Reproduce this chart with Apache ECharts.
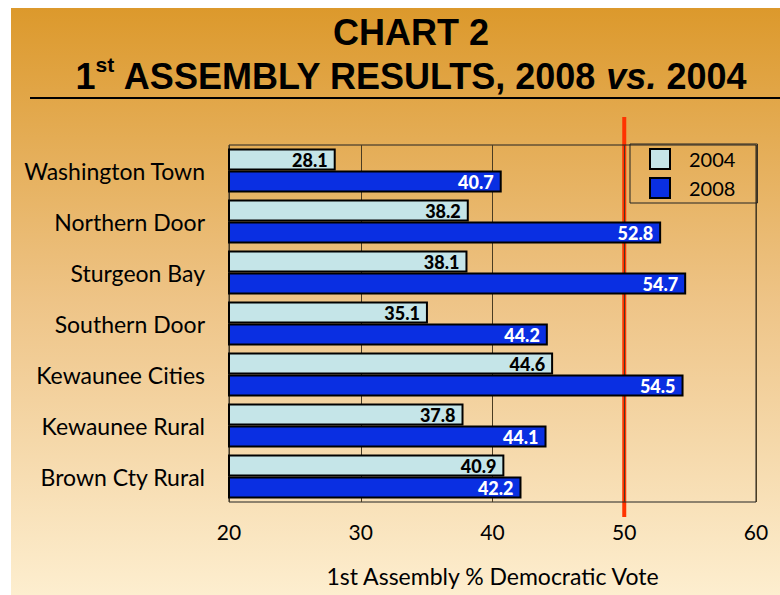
<!DOCTYPE html>
<html>
<head>
<meta charset="utf-8">
<script src="https://cdn.jsdelivr.net/npm/echarts@6/dist/echarts.min.js"></script>
<style>html,body{margin:0;padding:0;background:#fff;}#c{width:780px;height:595px;}</style>
</head>
<body>
<div id="c"></div>
<script>
const categories = ['Washington Town','Northern Door','Sturgeon Bay','Southern Door','Kewaunee Cities','Kewaunee Rural','Brown Cty Rural'];
const seriesNames = ['2004','2008'];
const values2004 = [28.1, 38.2, 38.1, 35.1, 44.6, 37.8, 40.9];
const values2008 = [40.7, 52.8, 54.7, 44.2, 54.5, 44.1, 42.2];
const xTicks = [20, 30, 40, 50, 60];
const threshold = 50;
const axisTitle = '1st Assembly % Democratic Vote';

const FONT = 'Lato, "Open Sans", sans-serif';
const chart = echarts.init(document.getElementById('c'), null, {renderer: 'svg'});

const option = {
  backgroundColor: '#ffffff',
  animation: false,
  title: {
    left: 406, top: 5, textAlign: 'center',
    text: '{a|CHART 2}\n{b|1}{s|st}{b| ASSEMBLY RESULTS, 2008 }{i|vs.}{b| 2004}',
    textStyle: {
      rich: {
        a: {fontFamily: '"Liberation Sans", Arial, sans-serif', fontWeight: 'bold', fontSize: 36, lineHeight: 44, color: '#000'},
        b: {fontFamily: '"Liberation Sans", Arial, sans-serif', fontWeight: 'bold', fontSize: 36, lineHeight: 44, color: '#000'},
        i: {fontFamily: '"Liberation Sans", Arial, sans-serif', fontWeight: 'bold', fontStyle: 'italic', fontSize: 36, lineHeight: 44, color: '#000'},
        s: {fontFamily: '"Liberation Sans", Arial, sans-serif', fontWeight: 'bold', fontSize: 21, lineHeight: 44, verticalAlign: 'top', padding: [0,0,14,0], color: '#000'}
      }
    }
  },
  legend: {
    orient: 'vertical', left: 630, top: 144,
    data: seriesNames,
    itemWidth: 20, itemHeight: 20, itemGap: 7,
    padding: [4, 22, 4, 19],
    borderColor: '#222', borderWidth: 1, borderRadius: 0,
    backgroundColor: 'transparent',
    icon: 'rect',
    textStyle: {fontFamily: FONT, fontSize: 20, color: '#000', padding: [0, 0, 0, 14]}
  },
  grid: {
    left: 229, right: 24, top: 145, bottom: 93,
    show: true, borderColor: '#222', borderWidth: 1, backgroundColor: 'transparent'
  },
  xAxis: {
    type: 'value', min: xTicks[0], max: xTicks[xTicks.length - 1], interval: 10,
    axisLine: {show: false}, axisTick: {show: false},
    splitLine: {show: true, lineStyle: {color: '#4a3c22', width: 1}},
    axisLabel: {fontFamily: FONT, fontSize: 21, color: '#000', margin: 19},
    name: axisTitle, nameLocation: 'middle', nameGap: 62,
    nameTextStyle: {fontFamily: FONT, fontSize: 23, color: '#000'}
  },
  yAxis: {
    type: 'category', data: categories, inverse: true,
    axisLine: {show: false}, axisTick: {show: false}, splitLine: {show: false},
    axisLabel: {fontFamily: FONT, fontSize: 23, color: '#000', margin: 24}
  },
  series: [
    {
      name: seriesNames[0], type: 'bar', data: values2004,
      barWidth: 22, barGap: '0%',
      itemStyle: {color: '#c5e5e8', borderColor: '#000', borderWidth: 2},
      label: {show: true, position: 'insideRight', distance: 8, fontFamily: FONT, fontWeight: 900, fontSize: 18, color: '#000',
        formatter: p => p.value.toFixed(1)}
    },
    {
      name: seriesNames[1], type: 'bar', data: values2008,
      barWidth: 22, barGap: '0%',
      itemStyle: {color: '#0a2fe2', borderColor: '#000', borderWidth: 2},
      label: {show: true, position: 'insideRight', distance: 8, fontFamily: FONT, fontWeight: 900, fontSize: 18, color: '#fff',
        formatter: p => p.value.toFixed(1)}
    }
  ]
};
chart.setOption(option);

const xr = chart.convertToPixel({xAxisIndex: 0}, threshold);
chart.setOption({
  graphic: [
    {
      type: 'rect', z: -100, silent: true,
      shape: {x: 11, y: 8, width: 769, height: 587},
      style: {fill: new echarts.graphic.LinearGradient(0, 0, 0, 1, [
        {offset: 0, color: '#dc992c'},
        {offset: 0.5, color: '#eec487'},
        {offset: 1, color: '#fdeecf'}
      ])}
    },
    {
      type: 'line', z: -1, silent: true,
      shape: {x1: 30, y1: 98, x2: 780, y2: 98},
      style: {stroke: '#000', lineWidth: 2}
    },
    {
      type: 'line', z: -1, silent: true,
      shape: {x1: xr, y1: 117, x2: xr, y2: 517},
      style: {stroke: '#ff3300', lineWidth: 4}
    }
  ]
});
</script>
</body>
</html>
